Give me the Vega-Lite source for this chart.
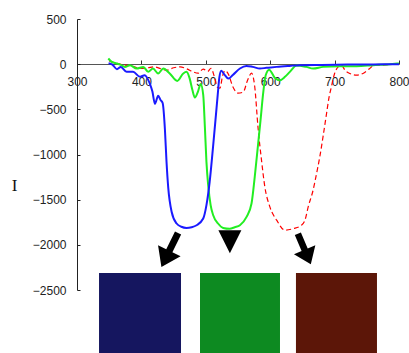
{
  "$schema": "https://vega.github.io/schema/vega-lite/v6.json",
  "width": 322,
  "height": 271,
  "autosize": {"type": "none"},
  "padding": {"left": 77, "top": 19, "right": 10, "bottom": 63},
  "background": "white",
  "config": {
    "view": {"stroke": null},
    "axis": {"grid": false, "labelFont": "Liberation Sans", "labelFontSize": 12, "labelColor": "#222", "domainColor": "#222", "tickColor": "#222"}
  },
  "datasets": {
    "squares": [
      {"sample": "blue", "wavelength": 334.2, "wavelength2": 461.5, "I": -2312, "I2": -3250},
      {"sample": "green", "wavelength": 491, "wavelength2": 615.2, "I": -2312, "I2": -3250},
      {"sample": "red", "wavelength": 640, "wavelength2": 765.8, "I": -2312, "I2": -3250}
    ],
    "arrows": [
      {"sample": "blue", "wavelength": 444, "I": -2057},
      {"sample": "green", "wavelength": 537.4, "I": -1965},
      {"sample": "red", "wavelength": 653, "I": -2046}
    ],
    "spectra": [
      {"s":"blue","wavelength":349,"I":10},{"s":"blue","wavelength":355,"I":-5},{"s":"blue","wavelength":362,"I":-55},{"s":"blue","wavelength":368,"I":-30},{"s":"blue","wavelength":377,"I":-85},{"s":"blue","wavelength":387,"I":-85},{"s":"blue","wavelength":398,"I":-140},{"s":"blue","wavelength":405,"I":-122},{"s":"blue","wavelength":413,"I":-214},{"s":"blue","wavelength":417,"I":-300},{"s":"blue","wavelength":421,"I":-440},{"s":"blue","wavelength":426,"I":-350},{"s":"blue","wavelength":430,"I":-400},{"s":"blue","wavelength":433,"I":-430},{"s":"blue","wavelength":436.5,"I":-720},{"s":"blue","wavelength":439,"I":-1080},{"s":"blue","wavelength":441.7,"I":-1370},{"s":"blue","wavelength":447,"I":-1636},{"s":"blue","wavelength":454.7,"I":-1764},{"s":"blue","wavelength":462,"I":-1800},{"s":"blue","wavelength":470,"I":-1813},{"s":"blue","wavelength":478,"I":-1805},{"s":"blue","wavelength":485.7,"I":-1783},{"s":"blue","wavelength":496,"I":-1709},{"s":"blue","wavelength":501,"I":-1561},{"s":"blue","wavelength":506,"I":-1303},{"s":"blue","wavelength":511.5,"I":-897},{"s":"blue","wavelength":515.7,"I":-565},{"s":"blue","wavelength":518.5,"I":-340},{"s":"blue","wavelength":521,"I":-150},{"s":"blue","wavelength":524,"I":-73},{"s":"blue","wavelength":529,"I":-115},{"s":"blue","wavelength":535,"I":-160},{"s":"blue","wavelength":542,"I":-120},{"s":"blue","wavelength":553,"I":-48},{"s":"blue","wavelength":563,"I":-19},{"s":"blue","wavelength":573,"I":-30},{"s":"blue","wavelength":584,"I":-48},{"s":"blue","wavelength":594,"I":-41},{"s":"blue","wavelength":610,"I":-30},{"s":"blue","wavelength":630,"I":-19},{"s":"blue","wavelength":646,"I":-11},{"s":"blue","wavelength":680,"I":-8},{"s":"blue","wavelength":720,"I":-5},{"s":"blue","wavelength":760,"I":-3},{"s":"blue","wavelength":800,"I":0},
      {"s":"green","wavelength":348.6,"I":63},{"s":"green","wavelength":354,"I":25},{"s":"green","wavelength":361.6,"I":8},{"s":"green","wavelength":367,"I":-5},{"s":"green","wavelength":374.5,"I":-30},{"s":"green","wavelength":382,"I":-11},{"s":"green","wavelength":392.6,"I":-48},{"s":"green","wavelength":403,"I":-30},{"s":"green","wavelength":410.6,"I":-85},{"s":"green","wavelength":418,"I":-48},{"s":"green","wavelength":426,"I":-103},{"s":"green","wavelength":434,"I":-48},{"s":"green","wavelength":444,"I":-103},{"s":"green","wavelength":455.6,"I":-185},{"s":"green","wavelength":465,"I":-103},{"s":"green","wavelength":470,"I":-85},{"s":"green","wavelength":475,"I":-160},{"s":"green","wavelength":479,"I":-280},{"s":"green","wavelength":483,"I":-369},{"s":"green","wavelength":488,"I":-300},{"s":"green","wavelength":492,"I":-220},{"s":"green","wavelength":496,"I":-340},{"s":"green","wavelength":498.6,"I":-700},{"s":"green","wavelength":501,"I":-1082},{"s":"green","wavelength":503.7,"I":-1340},{"s":"green","wavelength":507.5,"I":-1561},{"s":"green","wavelength":511.5,"I":-1672},{"s":"green","wavelength":519,"I":-1764},{"s":"green","wavelength":527,"I":-1813},{"s":"green","wavelength":537,"I":-1822},{"s":"green","wavelength":545,"I":-1805},{"s":"green","wavelength":553,"I":-1783},{"s":"green","wavelength":563.3,"I":-1691},{"s":"green","wavelength":571,"I":-1543},{"s":"green","wavelength":576,"I":-1248},{"s":"green","wavelength":581.3,"I":-878},{"s":"green","wavelength":585,"I":-620},{"s":"green","wavelength":589,"I":-325},{"s":"green","wavelength":593,"I":-122},{"s":"green","wavelength":598.4,"I":-62},{"s":"green","wavelength":602,"I":-90},{"s":"green","wavelength":607,"I":-150},{"s":"green","wavelength":615,"I":-177},{"s":"green","wavelength":623,"I":-140},{"s":"green","wavelength":630.5,"I":-85},{"s":"green","wavelength":641,"I":-15},{"s":"green","wavelength":656,"I":-30},{"s":"green","wavelength":666.6,"I":-48},{"s":"green","wavelength":682,"I":-30},{"s":"green","wavelength":708,"I":-22},{"s":"green","wavelength":734,"I":-22},{"s":"green","wavelength":760,"I":-11},{"s":"green","wavelength":786,"I":0},{"s":"green","wavelength":800,"I":8},
      {"s":"red","wavelength":350,"I":37},{"s":"red","wavelength":362,"I":8},{"s":"red","wavelength":375,"I":-10},{"s":"red","wavelength":385,"I":-20},{"s":"red","wavelength":398,"I":-48},{"s":"red","wavelength":410,"I":-40},{"s":"red","wavelength":420,"I":-30},{"s":"red","wavelength":430,"I":-50},{"s":"red","wavelength":440,"I":-66},{"s":"red","wavelength":450,"I":-40},{"s":"red","wavelength":460,"I":-30},{"s":"red","wavelength":470,"I":-50},{"s":"red","wavelength":480,"I":-85},{"s":"red","wavelength":488,"I":-100},{"s":"red","wavelength":496,"I":-55},{"s":"red","wavelength":503,"I":-80},{"s":"red","wavelength":508,"I":-45},{"s":"red","wavelength":513,"I":-130},{"s":"red","wavelength":518,"I":-255},{"s":"red","wavelength":522,"I":-265},{"s":"red","wavelength":526,"I":-130},{"s":"red","wavelength":530,"I":-70},{"s":"red","wavelength":535,"I":-110},{"s":"red","wavelength":542,"I":-250},{"s":"red","wavelength":550,"I":-320},{"s":"red","wavelength":558,"I":-310},{"s":"red","wavelength":565,"I":-175},{"s":"red","wavelength":571,"I":-100},{"s":"red","wavelength":576,"I":-250},{"s":"red","wavelength":581,"I":-694},{"s":"red","wavelength":586.5,"I":-1063},{"s":"red","wavelength":591.7,"I":-1359},{"s":"red","wavelength":599.5,"I":-1580},{"s":"red","wavelength":610,"I":-1727},{"s":"red","wavelength":623,"I":-1838},{"s":"red","wavelength":636,"I":-1820},{"s":"red","wavelength":648.6,"I":-1783},{"s":"red","wavelength":654,"I":-1727},{"s":"red","wavelength":659,"I":-1580},{"s":"red","wavelength":666.6,"I":-1395},{"s":"red","wavelength":672,"I":-1210},{"s":"red","wavelength":677,"I":-1026},{"s":"red","wavelength":682,"I":-805},{"s":"red","wavelength":687.5,"I":-546},{"s":"red","wavelength":691.5,"I":-362},{"s":"red","wavelength":695,"I":-251},{"s":"red","wavelength":700,"I":-103},{"s":"red","wavelength":705.5,"I":-30},{"s":"red","wavelength":710.6,"I":-11},{"s":"red","wavelength":716,"I":-66},{"s":"red","wavelength":723.6,"I":-103},{"s":"red","wavelength":734,"I":-122},{"s":"red","wavelength":744,"I":-103},{"s":"red","wavelength":754.6,"I":-48},{"s":"red","wavelength":762,"I":-11},{"s":"red","wavelength":775,"I":-11},{"s":"red","wavelength":791,"I":0},{"s":"red","wavelength":800,"I":0}
    ]
  },
  "encoding": {
    "x": {"field": "wavelength", "type": "quantitative",
      "scale": {"domain": [300, 800], "nice": false, "zero": false},
      "axis": {"orient": "bottom", "offset": -226, "values": [300, 400, 500, 600, 700, 800], "format": "d", "tickSize": -4, "labelPadding": 16, "labelAlign": "center", "labelFlush": false, "labelOverlap": false, "title": null, "domainColor": "#555", "tickColor": "#333"}},
    "y": {"field": "I", "type": "quantitative",
      "scale": {"domain": [-2500, 500], "nice": false, "zero": false},
      "axis": {"values": [-2500, -2000, -1500, -1000, -500, 0, 500], "format": "d", "tickSize": -3, "labelPadding": 14, "labelOverlap": false, "title": "I", "titleAngle": 0, "titleFont": "Liberation Serif", "titleFontSize": 17, "titleFontWeight": "normal", "titleColor": "#111", "titleX": -63, "titleY": 166, "titleAlign": "center", "titleBaseline": "middle"}}
  },
  "layer": [
    {
      "data": {"name": "squares"},
      "mark": {"type": "rect", "clip": false},
      "encoding": {
        "x2": {"field": "wavelength2"},
        "y2": {"field": "I2"},
        "color": {"field": "sample", "type": "nominal", "legend": null,
          "scale": {"domain": ["blue", "green", "red"], "range": ["#15165f", "#0d8a21", "#5c1608"]}}
      }
    },
    {
      "data": {"name": "arrows"},
      "transform": [{"filter": "datum.sample === 'blue'"}],
      "mark": {"type": "point", "filled": true, "opacity": 1, "color": "black", "size": 1444, "angle": 26, "shape": "M-0.18,-1L0.18,-1L0.18,0.05L0.66,0.05L0,1L-0.66,0.05L-0.18,0.05Z"}
    },
    {
      "data": {"name": "arrows"},
      "transform": [{"filter": "datum.sample === 'red'"}],
      "mark": {"type": "point", "filled": true, "opacity": 1, "color": "black", "size": 1100, "angle": -23, "shape": "M-0.2,-1L0.2,-1L0.2,0.05L0.7,0.05L0,1L-0.7,0.05L-0.2,0.05Z"}
    },
    {
      "data": {"name": "arrows"},
      "transform": [{"filter": "datum.sample === 'green'"}],
      "mark": {"type": "point", "filled": true, "opacity": 1, "color": "black", "size": 529, "shape": "M-1,-1L1,-1L0,1Z"}
    },
    {
      "data": {"name": "spectra"},
      "transform": [{"filter": "datum.s === 'red'"}],
      "mark": {"type": "line", "color": "#ff0000", "strokeWidth": 1.2, "strokeDash": [5, 3], "interpolate": "monotone"}
    },
    {
      "data": {"name": "spectra"},
      "transform": [{"filter": "datum.s === 'green'"}],
      "mark": {"type": "line", "color": "#22ee22", "strokeWidth": 2, "interpolate": "monotone"}
    },
    {
      "data": {"name": "spectra"},
      "transform": [{"filter": "datum.s === 'blue'"}],
      "mark": {"type": "line", "color": "#1a1aff", "strokeWidth": 2, "interpolate": "monotone"}
    }
  ]
}
